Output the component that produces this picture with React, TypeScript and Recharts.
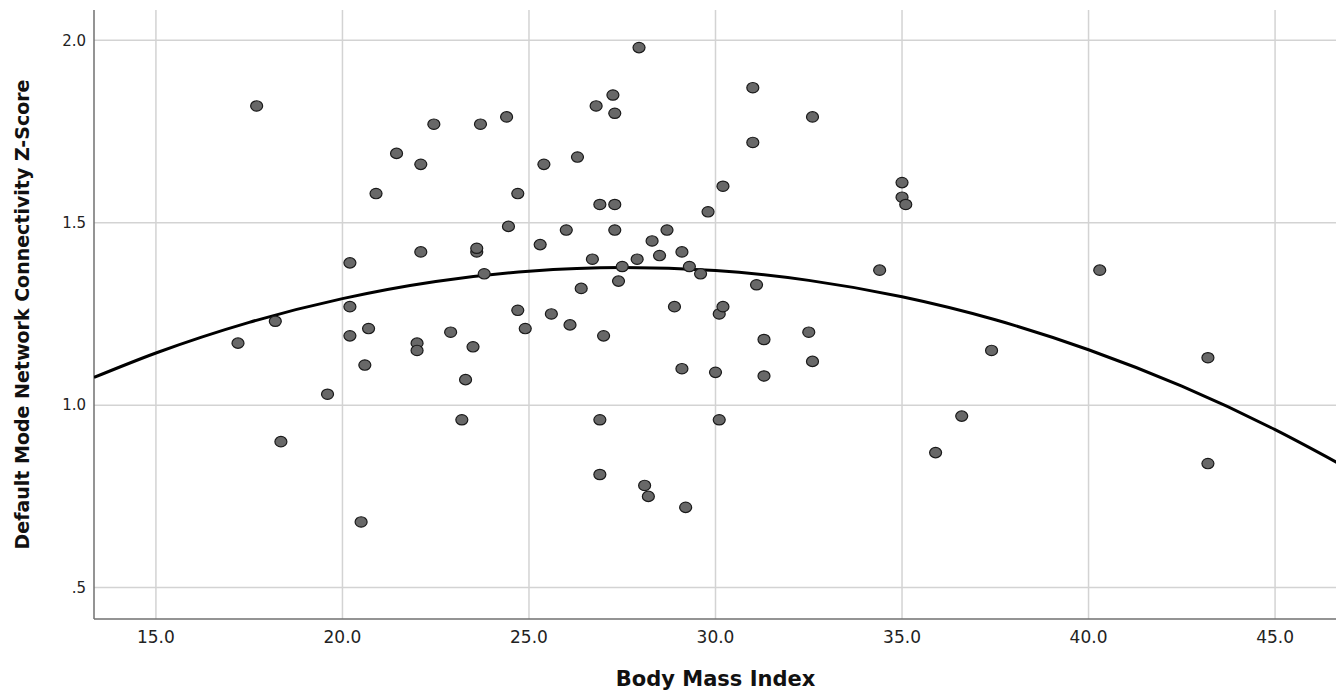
import { CartesianGrid, Scatter, ScatterChart, XAxis, YAxis } from 'recharts'

// body mass index of each subject
const bmi = [
  17.2, 17.7, 18.2, 18.35, 19.6, 20.2, 20.2, 20.2, 20.5, 20.6, 20.7, 20.9, 21.45, 22.0, 22.0,
  22.1, 22.1, 22.45, 22.9, 23.2, 23.3, 23.5, 23.6, 23.6, 23.7, 23.8, 24.4, 24.45, 24.7, 24.7,
  24.9, 25.3, 25.4, 25.6, 26.0, 26.1, 26.3, 26.4, 26.7, 26.8, 26.9, 26.9, 26.9, 27.0, 27.25,
  27.3, 27.3, 27.3, 27.4, 27.5, 27.9, 27.95, 28.1, 28.2, 28.3, 28.5, 28.7, 28.9, 29.1, 29.1,
  29.2, 29.3, 29.6, 29.8, 30.0, 30.1, 30.1, 30.2, 30.2, 31.0, 31.0, 31.1, 31.3, 31.3, 32.5,
  32.6, 32.6, 34.4, 35.0, 35.0, 35.1, 35.9, 36.6, 37.4, 40.3, 43.2, 43.2,
]
// default mode network connectivity z-score, same order
const dmn = [
  1.17, 1.82, 1.23, 0.9, 1.03, 1.39, 1.27, 1.19, 0.68, 1.11, 1.21, 1.58, 1.69, 1.17, 1.15,
  1.66, 1.42, 1.77, 1.2, 0.96, 1.07, 1.16, 1.42, 1.43, 1.77, 1.36, 1.79, 1.49, 1.26, 1.58,
  1.21, 1.44, 1.66, 1.25, 1.48, 1.22, 1.68, 1.32, 1.4, 1.82, 1.55, 0.81, 0.96, 1.19, 1.85,
  1.8, 1.55, 1.48, 1.34, 1.38, 1.4, 1.98, 0.78, 0.75, 1.45, 1.41, 1.48, 1.27, 1.42, 1.1,
  0.72, 1.38, 1.36, 1.53, 1.09, 1.25, 0.96, 1.6, 1.27, 1.87, 1.72, 1.33, 1.18, 1.08, 1.2,
  1.79, 1.12, 1.37, 1.61, 1.57, 1.55, 0.87, 0.97, 1.15, 1.37, 1.13, 0.84,
]

// quadratic fit line
const fitX = [13.34, 15, 17.5, 20, 22.5, 25, 27.5, 30, 32.5, 35, 37.5, 40, 42.5, 45, 46.66]
const fitY = [1.076, 1.143, 1.227, 1.292, 1.339, 1.367, 1.377, 1.369, 1.342, 1.297, 1.234, 1.152, 1.052, 0.933, 0.843]

const xTicks = [15, 20, 25, 30, 35, 40, 45]
const yTicks = [0.5, 1.0, 1.5, 2.0]

const points = bmi.map((x, i) => ({ x, y: dmn[i] }))
const fit = fitX.map((x, i) => ({ x, y: fitY[i] }))

const tickFont = 'DejaVu Sans, sans-serif'

const Dot = (props: any) => {
  const { cx, cy } = props
  if (cx == null || cy == null) return <g />
  return <ellipse cx={cx} cy={cy} rx={6} ry={5.2} fill="#686868" stroke="#1a1a1a" strokeWidth={1.2} />
}

const YLabel = (props: any) => {
  const vb = props.viewBox || { x: 0, y: 0, height: 0 }
  const cx = 14
  const cy = vb.y + vb.height / 2
  return (
    <text x={cx} y={cy} transform={`rotate(-90, ${cx}, ${cy})`} textAnchor="middle" dominantBaseline="central"
      fontFamily={tickFont} fontWeight="bold" fontSize={19} fill="#111">
      Default Mode Network Connectivity Z-Score
    </text>
  )
}

const fmtY = (v: number) => (v < 1 ? v.toFixed(1).replace(/^0/, '') : v.toFixed(1))

export default function App() {
  return (
    <div style={{ width: 1336, height: 688, background: '#fff' }}>
      <ScatterChart width={1336} height={688} margin={{ top: 2, right: 7, bottom: 0, left: 0 }}>
        <CartesianGrid stroke="#d3d3d3" strokeWidth={1.5} syncWithTicks />
        <XAxis
          type="number" dataKey="x" domain={[13.34, 46.66]} ticks={xTicks} allowDataOverflow
          height={77} tickLine={false} tickMargin={6} axisLine={{ stroke: '#707070', strokeWidth: 1.5 }}
          tick={{ fontSize: 17, fill: '#222', fontFamily: tickFont }}
          tickFormatter={(v: number) => v.toFixed(1)}
          label={{ value: 'Body Mass Index', position: 'insideBottom', offset: 10, fontSize: 21, fontWeight: 'bold', fill: '#111', fontFamily: tickFont }}
        />
        <YAxis
          type="number" dataKey="y" domain={[0.414, 2.083]} ticks={yTicks} allowDataOverflow
          width={86} tickLine={false} axisLine={{ stroke: '#707070', strokeWidth: 1.5 }}
          tick={{ fontSize: 15, fill: '#222', fontFamily: tickFont }}
          tickFormatter={fmtY}
          label={{ position: 'center', content: <YLabel /> }}
        />
        <Scatter data={fit} line={{ stroke: '#000', strokeWidth: 3 }} lineJointType="monotoneX" shape={() => <g />} isAnimationActive={false} />
        <Scatter data={points} shape={<Dot />} isAnimationActive={false} />
      </ScatterChart>
    </div>
  )
}
